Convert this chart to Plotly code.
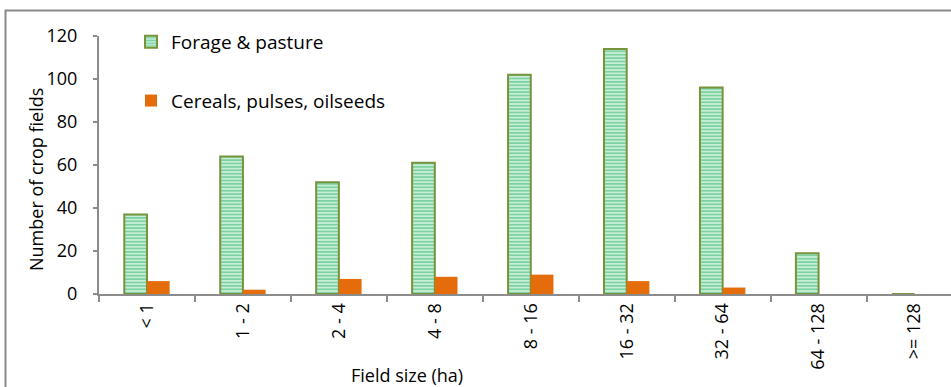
import plotly.graph_objects as go

# Field-size classes (ha) and number of crop fields per class
size_classes = ["< 1", "1 - 2", "2 - 4", "4 - 8", "8 - 16", "16 - 32", "32 - 64", "64 - 128", ">= 128"]
forage_pasture = [37, 64, 52, 61, 102, 114, 96, 19, 0]
cereals_pulses_oilseeds = [6, 2, 7, 8, 9, 6, 3, 0, 0]
y_ticks = [0, 20, 40, 60, 80, 100, 120]

W, H = 951, 387
L, R, T, B = 99, 0, 36, 93
PW, PH = W - L - R, H - T - B

def px_x(px):
    return (px - L) / PW

def px_y(py):
    return (H - B - py) / PH

FONT = "Open Sans"
AXIS_GREY = "#8c8c8c"

fig = go.Figure()
fig.add_trace(go.Bar(
    name="Forage & pasture",
    x=size_classes, y=forage_pasture,
    legendgroup="a",
    marker=dict(
        color="#e3f6e9",
        line=dict(color="#77933c", width=2),
        pattern=dict(shape="-", fgcolor="#12b058", bgcolor="#e3f6e9", size=3.4, solidity=0.62),
    ),
))
fig.add_trace(go.Bar(
    name="Cereals, pulses, oilseeds",
    x=size_classes, y=cereals_pulses_oilseeds,
    legendgroup="b",
    marker=dict(color="#e46c0a", line=dict(width=0)),
))

fig.update_layout(
    width=W, height=H,
    margin=dict(l=L, r=R, t=T, b=B, pad=0),
    paper_bgcolor="white", plot_bgcolor="white",
    barmode="group", bargap=0.527, bargroupgap=0,
    font=dict(family=FONT, size=17, color="#000000"),
    showlegend=True,
    legend=dict(
        x=px_x(131), y=px_y(23), xanchor="left", yanchor="top",
        bgcolor="rgba(0,0,0,0)", font=dict(size=19, family=FONT),
        tracegroupgap=31, itemwidth=30,
    ),
    xaxis=dict(
        type="category", categoryorder="array", categoryarray=size_classes,
        range=[-0.5, 8.38],
        showline=True, linecolor=AXIS_GREY, linewidth=2,
        ticks="outside", ticklen=6, tickwidth=2, tickcolor=AXIS_GREY,
        tickson="boundaries", tickangle=-90,
        tickfont=dict(size=18, family=FONT),
        showgrid=False, zeroline=False,
    ),
    xaxis2=dict(
        overlaying="x", anchor="y", side="bottom",
        range=[-0.5, 8.38], tickvals=[0.5, 1.5, 2.5, 3.5, 4.5, 5.5, 6.5, 7.5],
        ticks="inside", ticklen=6, tickwidth=2, tickcolor=AXIS_GREY,
        showticklabels=False, showline=False, showgrid=False, zeroline=False,
    ),
    yaxis=dict(
        range=[0, 120], tickvals=y_ticks,
        showline=True, linecolor=AXIS_GREY, linewidth=2,
        ticks="outside", ticklen=4, tickwidth=2, tickcolor=AXIS_GREY,
        ticklabelstandoff=12,
        tickfont=dict(size=18, family=FONT),
        showgrid=False, zeroline=False,
    ),
)

# Chart-area frame
fig.add_shape(
    type="rect", xref="paper", yref="paper",
    x0=px_x(5.5), x1=px_x(1000), y0=px_y(10.5), y1=px_y(450),
    line=dict(color="#8a8a8a", width=2), fillcolor="rgba(0,0,0,0)", layer="above",
)

# Figure caption above the frame
fig.add_annotation(
    text="Figure 5. Forage & pasture and cereals, pulses, oilseeds fields",
    xref="paper", yref="paper", x=px_x(1), y=px_y(-5),
    xanchor="left", yanchor="bottom", showarrow=False,
    font=dict(size=16, family=FONT, color="#000000"),
)

# Axis titles
fig.add_annotation(
    text="Field size (ha)", xref="paper", yref="paper",
    x=px_x(407), y=px_y(375), xanchor="center", yanchor="middle",
    showarrow=False, font=dict(size=18, family=FONT, color="#000000"),
)
fig.add_annotation(
    text="Number of crop fields", xref="paper", yref="paper",
    x=px_x(36), y=px_y(180), xanchor="center", yanchor="middle",
    textangle=-90, showarrow=False,
    font=dict(size=18, family=FONT, color="#000000"),
)

fig.write_html("out.html")
